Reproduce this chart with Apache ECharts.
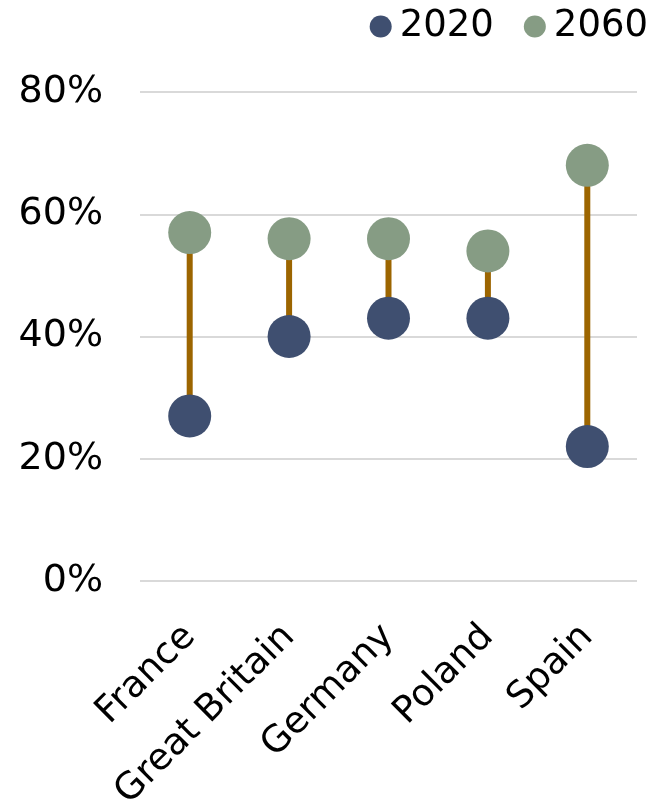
<!DOCTYPE html>
<html>
<head>
<meta charset="utf-8">
<script src="https://cdn.jsdelivr.net/npm/echarts@6/dist/echarts.min.js"></script>
<style>
  html, body { margin: 0; padding: 0; background: #fff; }
  #chart { width: 662px; height: 803px; }
</style>
</head>
<body>
<div id="chart"></div>
<script>
// Share by country, 2020 vs 2060
const countries = ['France', 'Great Britain', 'Germany', 'Poland', 'Spain'];
const values2020 = [27, 40, 43, 43, 22];
const values2060 = [57, 56, 56, 54, 68];
const yTicks = [0, 20, 40, 60, 80];

const FONT = 'DejaVu Sans';
const chart = echarts.init(document.getElementById('chart'), null, { renderer: 'canvas' });

const rangeData = countries.map((c, i) => [i, values2020[i], values2060[i]]);

chart.setOption({
  animation: false,
  textStyle: { fontFamily: FONT },
  legend: {
    data: ['2020', '2060'],
    top: 3,
    right: 9,
    icon: 'circle',
    itemWidth: 22,
    itemHeight: 22,
    itemGap: 30,
    textStyle: { fontFamily: FONT, fontSize: 37, color: '#000', padding: [0, 0, 0, 3] }
  },
  grid: {
    left: 140, right: 25, top: 92, bottom: 222,
    containLabel: false,
    outerBoundsMode: 'none'
  },
  xAxis: {
    type: 'category',
    data: countries,
    boundaryGap: true,
    axisLine: { show: false },
    axisTick: { show: false },
    axisLabel: {
      rotate: 45,
      interval: 0,
      margin: 50,
      fontFamily: FONT,
      fontSize: 37,
      color: '#000'
    }
  },
  yAxis: {
    type: 'value',
    min: yTicks[0],
    max: yTicks[yTicks.length - 1],
    interval: 20,
    axisLine: { show: false },
    axisTick: { show: false },
    splitLine: { lineStyle: { color: '#d9d9d9', width: 2 } },
    axisLabel: {
      margin: 37,
      fontFamily: FONT,
      fontSize: 38,
      color: '#000',
      formatter: v => v + '%'
    }
  },
  series: [
    {
      name: 'range',
      type: 'custom',
      data: rangeData,
      z: 1,
      renderItem: (params, api) => {
        const x = api.value(0);
        const a = api.coord([x, api.value(1)]);
        const b = api.coord([x, api.value(2)]);
        return {
          type: 'line',
          shape: { x1: a[0], y1: a[1], x2: b[0], y2: b[1] },
          style: { stroke: '#9c6500', lineWidth: 6 }
        };
      },
      encode: { x: 0, y: [1, 2] },
      silent: true
    },
    {
      name: '2020',
      type: 'scatter',
      data: values2020,
      symbol: 'circle',
      symbolSize: 43,
      z: 3,
      itemStyle: { color: '#3f4f70', opacity: 1 }
    },
    {
      name: '2060',
      type: 'scatter',
      data: values2060,
      symbol: 'circle',
      symbolSize: 43,
      z: 3,
      itemStyle: { color: '#869c84', opacity: 1 }
    }
  ]
});
</script>
</body>
</html>
